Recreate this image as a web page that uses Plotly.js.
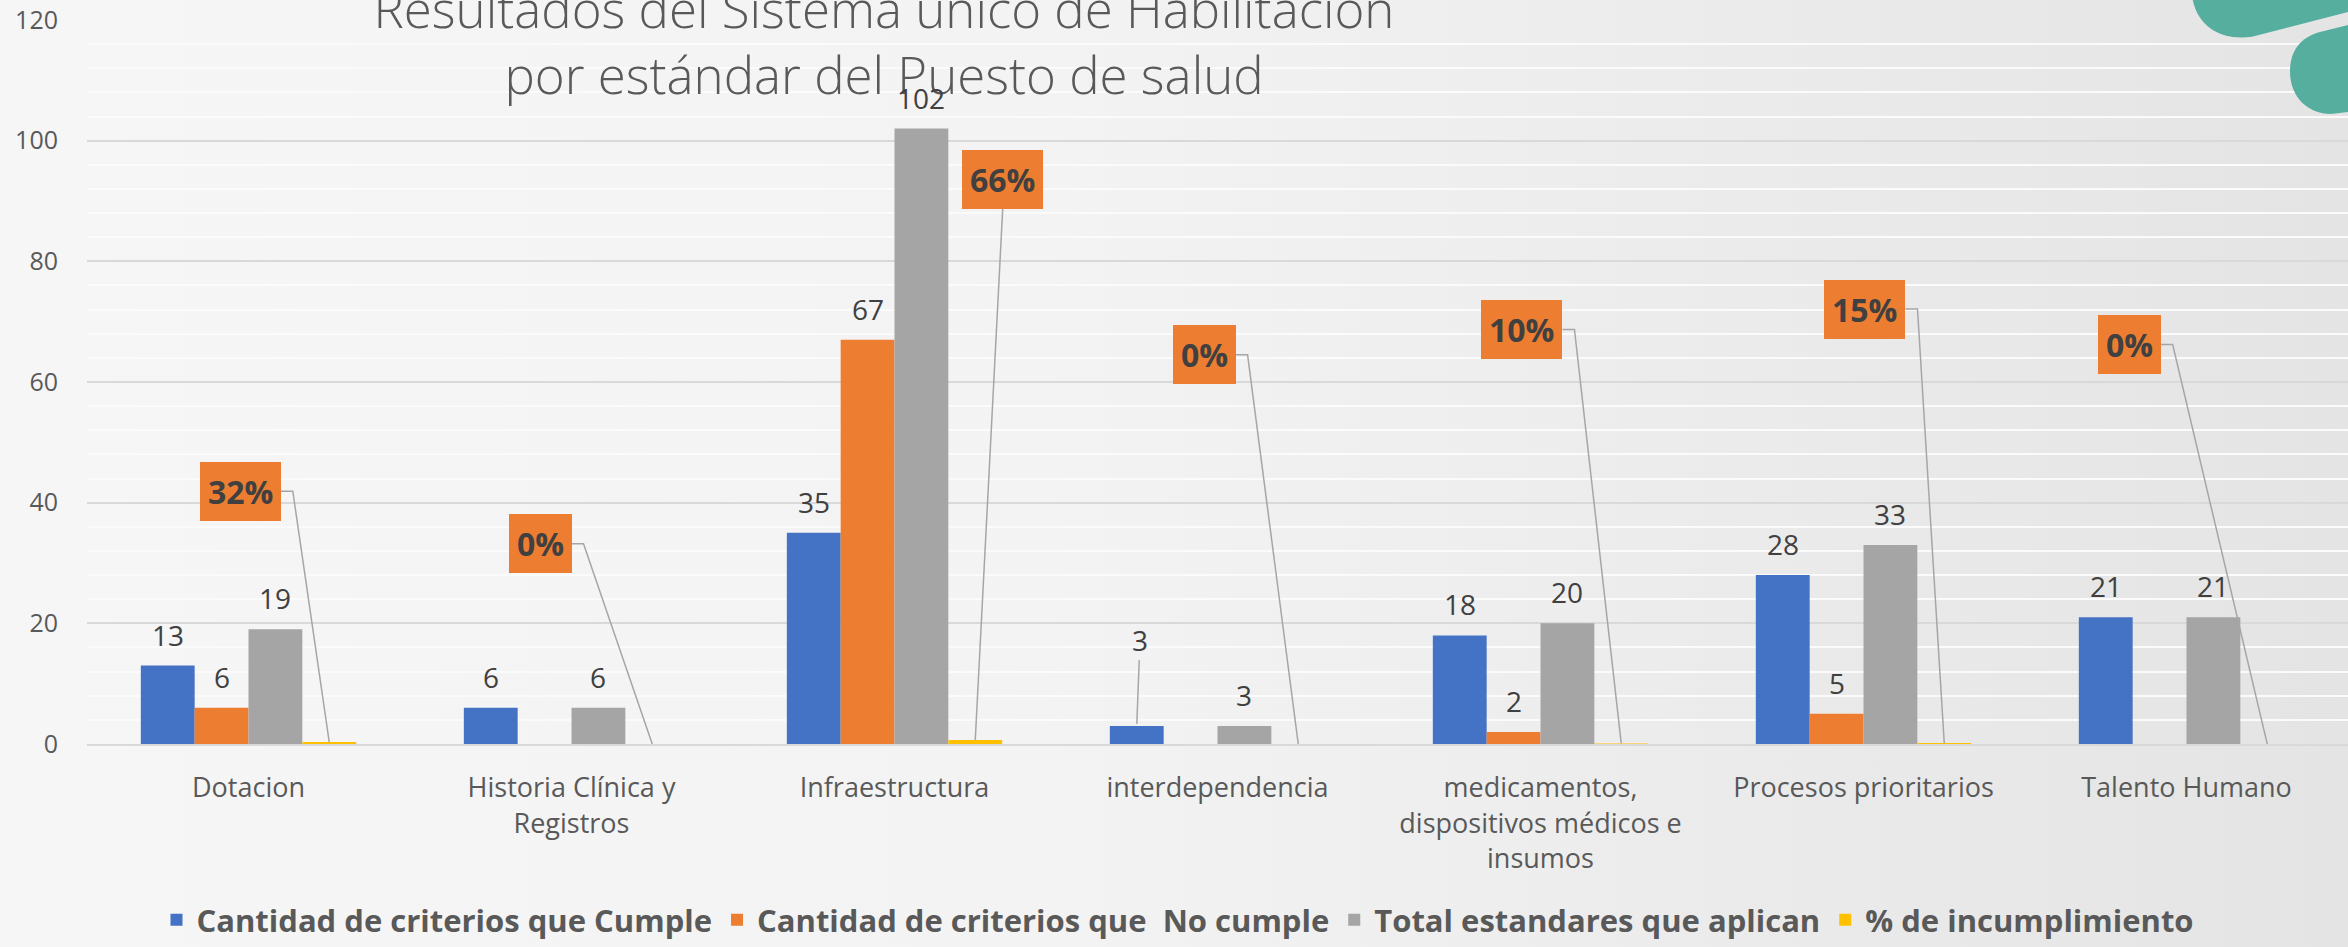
<!DOCTYPE html>
<html>
<head>
<meta charset="utf-8">
<script src="https://cdn.plot.ly/plotly-3.0.1.min.js"></script>
<style>
html,body{margin:0;padding:0;overflow:hidden;}
body{background:linear-gradient(to right,#f6f6f6 0%,#f3f3f3 45%,#e4e4e4 100%);}
#chart{width:2348px;height:947px;}
</style>
</head>
<body>
<div id="chart"></div>
<script>
// ---------- data ----------
const categories = [
  'Dotacion',
  'Historia Clínica y<br>Registros',
  'Infraestructura',
  'interdependencia',
  'medicamentos,<br>dispositivos médicos e<br>insumos',
  'Procesos prioritarios',
  'Talento Humano'
];
const cumple            = [13, 6, 35, 3, 18, 28, 21];
const noCumple          = [6, 0, 67, 0, 2, 5, 0];
const totalAplican      = [19, 6, 102, 3, 20, 33, 21];
const pctIncumplimiento = [0.32, 0, 0.66, 0, 0.10, 0.15, 0];
const seriesNames = [
  'Cantidad de criterios que Cumple',
  'Cantidad de criterios que  No cumple',
  'Total estandares que aplican',
  '% de incumplimiento'
];
const yTickVals = [0, 20, 40, 60, 80, 100, 120];

// ---------- style / layout ----------
const seriesColors = ['#4472C4', '#ED7D31', '#A5A5A5', '#FFC000'];
const FONT = '"Open Sans", "Noto Sans", sans-serif';
const W = 2348, H = 947;
const M = {l: 87, r: 0, t: 20, b: 195};
const BARGAP = 1/3;
const CAT_PX = (W - M.l - M.r) / categories.length;
// callout anchor for % labels: [x offset from category centre, y (data units), side the leader leaves from]
const pctLabelPos = [
  [0.100, 41.9, 'right'],
  [0.000, 33.2, 'right'],
  [0.335, 88.7, 'bottom'],
  [0.056, 64.5, 'right'],
  [0.068, 68.7, 'right'],
  [0.130, 72.1, 'right'],
  [-0.080, 66.2, 'right']
];
const ELBOW_PX = 12;
// numeric label moved away from its bar with a leader line
const movedLabels = [{series: 0, index: 3, y: 17.3, dx: 0.01}];

const seriesValues = [cumple, noCumple, totalAplican, pctIncumplimiento];
const nS = seriesValues.length;
const barOffset = k => (-(nS - 1) / 2 + k) * (1 - BARGAP) / nS;

const traces = seriesValues.map((vals, k) => ({
  type: 'bar',
  name: seriesNames[k],
  x: categories,
  y: vals,
  marker: {color: seriesColors[k], line: {width: 0}},
  hoverinfo: 'skip'
}));

const annotations = [];
const shapes = [];
// value labels for the three count series
for (let k = 0; k < 3; k++) {
  seriesValues[k].forEach((v, i) => {
    if (v <= 0) return;
    const moved = movedLabels.find(m => m.series === k && m.index === i);
    const xPos = i + barOffset(k);
    if (moved) {
      annotations.push({
        x: xPos, y: v, xref: 'x', yref: 'y',
        ax: xPos + moved.dx, ay: moved.y, axref: 'x', ayref: 'y',
        text: String(v), showarrow: true, arrowhead: 0, arrowwidth: 1.5,
        arrowcolor: '#a6a6a6', standoff: 2,
        font: {family: FONT, size: 28, color: '#404040'}
      });
    } else {
      annotations.push({
        x: xPos, y: v, xref: 'x', yref: 'y',
        text: String(v), showarrow: false, yanchor: 'bottom', yshift: 10,
        font: {family: FONT, size: 28, color: '#404040'}
      });
    }
  });
}
// % callouts with elbow leader lines
pctIncumplimiento.forEach((v, i) => {
  const xBar = i + barOffset(3);
  const [dx, yy, side] = pctLabelPos[i];
  const ax = i + dx;
  const ann = {
    x: ax, y: yy, xref: 'x', yref: 'y',
    text: '<b>' + Math.round(v * 100) + '%</b>',
    showarrow: false,
    bgcolor: '#ED7D31', borderpad: 8, borderwidth: 0,
    font: {family: FONT, size: 32, color: '#404040'}
  };
  let path;
  if (side === 'right') {
    ann.xanchor = 'right'; ann.yanchor = 'middle';
    const ex = ax + ELBOW_PX / CAT_PX;
    path = 'M' + ax + ',' + yy + ' L' + ex + ',' + yy + ' L' + xBar + ',' + v;
  } else {
    ann.xanchor = 'center'; ann.yanchor = 'bottom';
    path = 'M' + ax + ',' + yy + ' L' + xBar + ',' + v;
  }
  shapes.push({type: 'path', xref: 'x', yref: 'y', path: path, layer: 'above',
               line: {color: '#a6a6a6', width: 1.5}});
  annotations.push(ann);
});

// decorative teal shapes (pixel coordinates converted to paper)
const pw = W - M.l - M.r, ph = H - M.t - M.b;
const P = (x, y) => ((x - M.l) / pw).toFixed(5) + ',' + ((H - M.b - y) / ph).toFixed(5);
shapes.push(
  {type: 'path', xref: 'paper', yref: 'paper', layer: 'above', line: {width: 0}, fillcolor: '#56AE9F',
   path: 'M' + P(2192, -4) + ' C' + P(2197, 28) + ' ' + P(2222, 41) + ' ' + P(2252, 37) +
         ' L' + P(2348, 12) + ' L' + P(2348, -4) + ' Z'},
  {type: 'path', xref: 'paper', yref: 'paper', layer: 'above', line: {width: 0}, fillcolor: '#56AE9F',
   path: 'M' + P(2348, 25) + ' L' + P(2317, 33) + ' C' + P(2297, 40) + ' ' + P(2290, 55) + ' ' + P(2290, 72) +
         ' C' + P(2290, 98) + ' ' + P(2308, 115) + ' ' + P(2331, 115) + ' L' + P(2348, 113) + ' Z'}
);

const layout = {
  width: W, height: H,
  margin: M,
  paper_bgcolor: 'rgba(0,0,0,0)',
  plot_bgcolor: 'rgba(0,0,0,0)',
  font: {family: FONT, color: '#595959'},
  title: {
    text: 'Resultados del Sistema único de Habilitación<br>por estándar del Puesto de salud',
    font: {family: FONT, size: 51, color: '#595959', weight: 300},
    xref: 'container', x: 884 / W, xanchor: 'center',
    yref: 'container', y: 1 - 28 / H, yanchor: 'middle'
  },
  barmode: 'group',
  bargap: BARGAP,
  bargroupgap: 0,
  showlegend: true,
  legend: {
    orientation: 'h', x: (1178 - M.l) / pw, xanchor: 'center', y: (H - M.b - 930) / ph, yanchor: 'middle',
    font: {family: FONT, size: 31, color: '#595959', weight: 'bold'},
    bgcolor: 'rgba(0,0,0,0)', itemclick: false, traceorder: 'normal'
  },
  xaxis: {
    type: 'category', tickangle: 0,
    tickfont: {family: FONT, size: 27, color: '#595959'},
    showline: true, linecolor: '#d9d9d9', linewidth: 2,
    showgrid: false, ticks: '', ticklabelstandoff: 19, fixedrange: true
  },
  yaxis: {
    range: [0, 120], tickmode: 'array', tickvals: yTickVals, ticktext: yTickVals.map(String),
    tickfont: {family: FONT, size: 25, color: '#595959'},
    showgrid: true, gridcolor: '#d9d9d9', gridwidth: 2,
    minor: {dtick: 4, tick0: 0, showgrid: true, gridcolor: '#fbfbfb', gridwidth: 2},
    zeroline: false, showline: false, ticks: '', ticklabelstandoff: 28, fixedrange: true
  },
  annotations: annotations,
  shapes: shapes
};

Plotly.newPlot('chart', traces, layout, {displayModeBar: false, staticPlot: true});
</script>
</body>
</html>
